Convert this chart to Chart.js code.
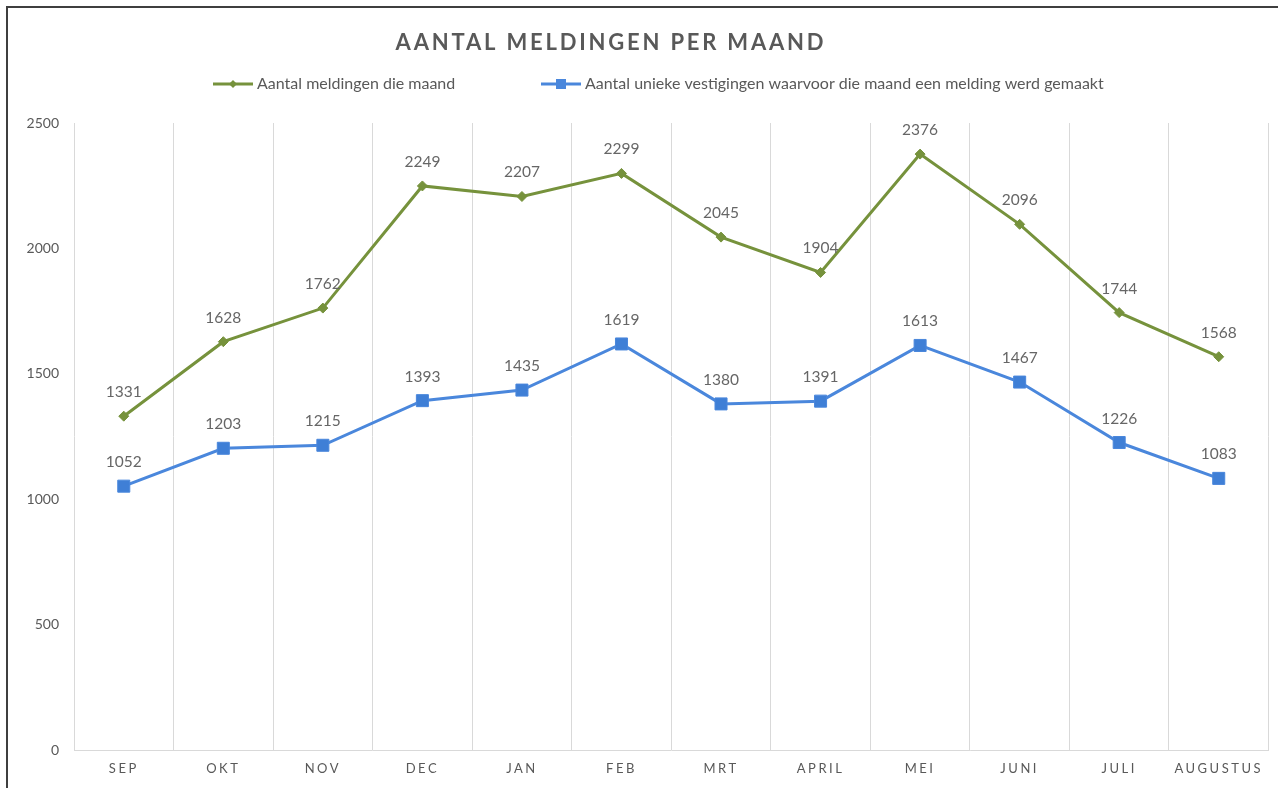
<!DOCTYPE html>
<html>
<head>
<meta charset="utf-8">
<script src="https://cdn.jsdelivr.net/npm/chart.js@4.4.1/dist/chart.umd.min.js"></script>
<style>
  html, body { margin: 0; padding: 0; background: #fff; overflow: hidden; }
  #kader { position: absolute; left: 6px; top: 6px; width: 1400px; height: 900px;
           border-left: 2px solid #3f3f3f; border-top: 2px solid #3f3f3f; }
  #grafik { position: absolute; left: 0; top: 0; }
</style>
</head>
<body>
<div id="kader"></div>
<canvas id="grafik" width="1278" height="788"></canvas>
<script>
// maanden en cijfers
const maanden = ["SEP", "OKT", "NOV", "DEC", "JAN", "FEB", "MRT", "APRIL", "MEI", "JUNI", "JULI", "AUGUSTUS"];
const meldingen = [1331, 1628, 1762, 2249, 2207, 2299, 2045, 1904, 2376, 2096, 1744, 1568];
const vestigingen = [1052, 1203, 1215, 1393, 1435, 1619, 1380, 1391, 1613, 1467, 1226, 1083];
const yTicks = [0, 500, 1000, 1500, 2000, 2500];
const titel = "AANTAL MELDINGEN PER MAAND";
const namen = ["Aantal meldingen die maand", "Aantal unieke vestigingen waarvoor die maand een melding werd gemaakt"];

const groen = "#76923c", blauw = "#4a87dc", grijs = "#595959";
const letter = "Lato";

// waarden boven de punten + spatiering voor de maandnamen
const labels = {
    id: "labels",
    afterDatasetsDraw(chart) {
        const ctx = chart.ctx;
        ctx.save();
        ctx.fillStyle = "#666";
        ctx.font = "15.5px " + letter;
        ctx.textAlign = "center";
        ctx.textBaseline = "middle";
        chart.data.datasets.forEach((ds, i) => {
            chart.getDatasetMeta(i).data.forEach((p, j) => {
                ctx.fillText(ds.data[j], p.x, p.y - 24);
            });
        });
        ctx.restore();
        ctx.letterSpacing = "2.5px"; // x-ticks (z:1) komen hierna
    }
};

// titel en legenda
const kop = {
    id: "kop",
    afterDraw(chart) {
        const ctx = chart.ctx;
        ctx.letterSpacing = "0px";
        ctx.save();
        ctx.fillStyle = grijs;
        ctx.textBaseline = "middle";
        ctx.textAlign = "center";
        ctx.font = "bold 22px " + letter;
        ctx.letterSpacing = "2.8px";
        ctx.fillText(titel, 611, 43);
        ctx.letterSpacing = "0px";

        const items = [
            { x: 213, kleur: groen, vorm: "ruit" },
            { x: 541, kleur: blauw, vorm: "blok" }
        ];
        const y = 84;
        ctx.font = "16px " + letter;
        ctx.textAlign = "left";
        items.forEach((it, i) => {
            ctx.strokeStyle = it.kleur;
            ctx.fillStyle = it.kleur;
            ctx.lineWidth = 3;
            ctx.beginPath();
            ctx.moveTo(it.x, y);
            ctx.lineTo(it.x + 40, y);
            ctx.stroke();
            const mx = it.x + 20;
            ctx.beginPath();
            if (it.vorm === "ruit") {
                ctx.moveTo(mx, y - 4); ctx.lineTo(mx + 4, y); ctx.lineTo(mx, y + 4); ctx.lineTo(mx - 4, y);
            } else {
                ctx.rect(mx - 5, y - 5, 10, 10);
            }
            ctx.closePath();
            ctx.fill();
            ctx.fillStyle = grijs;
            ctx.fillText(namen[i], it.x + 44, y);
        });
        ctx.restore();
    }
};

new Chart(document.getElementById("grafik"), {
    type: "line",
    data: {
        labels: maanden,
        datasets: [
            { label: namen[0], data: meldingen, borderColor: groen, backgroundColor: groen,
              borderWidth: 3, pointStyle: "rectRot", pointRadius: 5, pointBorderWidth: 1 },
            { label: namen[1], data: vestigingen, borderColor: blauw, backgroundColor: "#3f7fd6",
              borderWidth: 3, pointStyle: "rect", pointRadius: 8.5, pointBorderWidth: 1 }
        ]
    },
    options: {
        responsive: false,
        animation: false,
        layout: { padding: { top: 123, left: 0, right: 5, bottom: 0 } },
        plugins: { legend: { display: false }, title: { display: false }, tooltip: { enabled: false } },
        scales: {
            x: {
                offset: true,
                grid: { offset: true, color: "#d9d9d9", drawTicks: false },
                border: { color: "#d9d9d9" },
                ticks: { color: grijs, font: { family: letter, size: 13 }, padding: 11, z: 1, maxRotation: 0, autoSkip: false },
                afterFit(s) { s.height = 38; }
            },
            y: {
                min: 0, max: 2500,
                grid: { display: false, drawTicks: false },
                border: { display: false },
                ticks: { color: grijs, font: { family: letter, size: 14 }, padding: 15, callback: v => String(v) },
                afterBuildTicks(s) { s.ticks = yTicks.map(v => ({ value: v })); },
                afterFit(s) { s.width = 74; }
            }
        }
    },
    plugins: [labels, kop]
});
</script>
</body>
</html>
